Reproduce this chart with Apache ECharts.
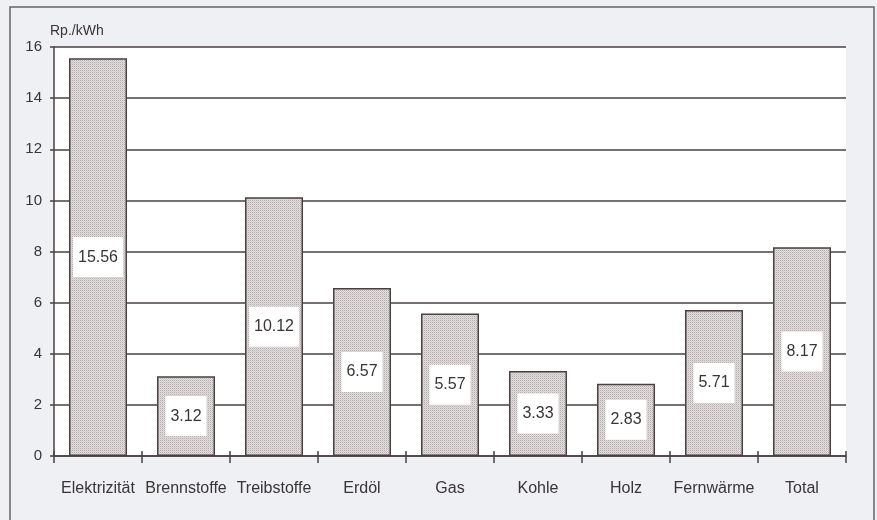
<!DOCTYPE html>
<html>
<head>
<meta charset="utf-8">
<script src="https://cdn.jsdelivr.net/npm/echarts@6/dist/echarts.min.js"></script>
<style>
html,body{margin:0;padding:0;background:#eef0f4;}
#c{width:877px;height:520px;}
</style>
</head>
<body>
<div id="c"></div>
<script>
const categories = ['Elektrizität','Brennstoffe','Treibstoffe','Erdöl','Gas','Kohle','Holz','Fernwärme','Total'];
const values = [15.56, 3.12, 10.12, 6.57, 5.57, 3.33, 2.83, 5.71, 8.17];
const yTicks = [0, 2, 4, 6, 8, 10, 12, 14, 16];
const unitLabel = 'Rp./kWh';

const FONT = '"Liberation Sans", Arial, Helvetica, sans-serif';
const INK = '#4a4040';

// dotted fill pattern for bars
const pc = document.createElement('canvas');
pc.width = 2; pc.height = 2;
const pctx = pc.getContext('2d');
pctx.fillStyle = '#e3dfdf'; pctx.fillRect(0,0,2,2);
pctx.fillStyle = '#b5adad'; pctx.fillRect(0,0,1,1);
pctx.fillStyle = '#cfc9c9'; pctx.fillRect(1,1,1,1);

const chart = echarts.init(document.getElementById('c'), null, {renderer:'canvas'});
chart.setOption({
  backgroundColor: '#eef0f4',
  animation: false,
  textStyle: {fontFamily: FONT},
  graphic: [{
    type: 'rect', silent: true, z: 100,
    shape: {x: 10, y: 7, width: 864, height: 530},
    style: {fill: 'none', stroke: '#6a6262', lineWidth: 1.5}
  }],
  grid: {left: 54, right: 31, top: 47, bottom: 64, show: true, backgroundColor: '#ffffff', borderWidth: 0},
  xAxis: [{
    type: 'category', data: categories,
    axisLine: {lineStyle: {color: INK, width: 1.5}},
    axisTick: {show: true, length: 7, inside: false, lineStyle: {color: INK, width: 1.5}},
    axisLabel: {color: '#3a3434', fontSize: 16, margin: 25, fontFamily: FONT, interval: 0},
    splitLine: {show: false}
  }, {
    type: 'category', data: categories, position: 'bottom',
    axisLine: {show: false},
    axisTick: {show: true, length: 5, inside: true, lineStyle: {color: INK, width: 1.5}},
    axisLabel: {show: false},
    splitLine: {show: false}
  }],
  yAxis: {
    type: 'value', min: 0, max: 16, interval: 2,
    name: unitLabel, nameLocation: 'end', nameGap: 9,
    nameTextStyle: {color: '#3a3434', fontSize: 14, align: 'left', padding: [0,0,0,-4], fontFamily: FONT},
    axisLine: {show: true, lineStyle: {color: INK, width: 1.5}},
    axisTick: {show: true, length: 4, lineStyle: {color: INK, width: 1.5}},
    axisLabel: {color: '#3a3434', fontSize: 15, margin: 12, fontFamily: FONT,
      formatter: v => yTicks.includes(v) ? String(v) : ''},
    splitLine: {show: true, lineStyle: {color: INK, width: 1.5}}
  },
  series: [{
    type: 'bar', data: values, xAxisIndex: 0,
    barWidth: 58,
    itemStyle: {color: {image: pc, repeat: 'repeat'}, borderColor: INK, borderWidth: 1.5},
    label: {
      show: true, position: 'inside',
      formatter: p => p.value.toFixed(2),
      color: '#3a3434', fontSize: 16, fontFamily: FONT,
      backgroundColor: '#ffffff', padding: [12, 5, 12, 5], lineHeight: 16
    }
  }]
});
</script>
</body>
</html>
